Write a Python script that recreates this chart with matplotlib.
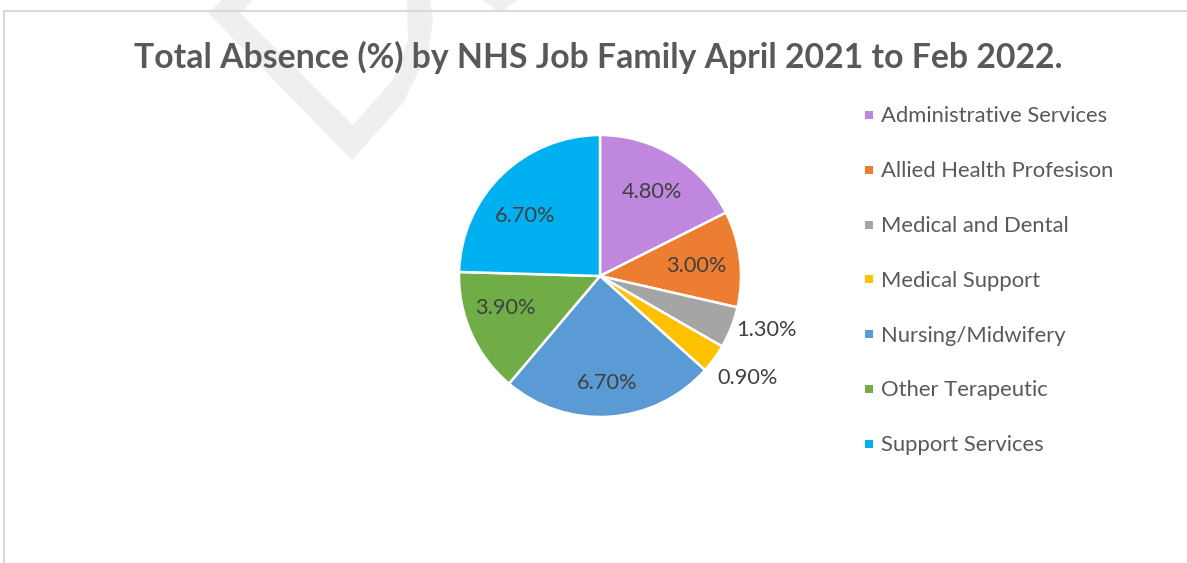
import matplotlib
matplotlib.use("Agg")
import matplotlib.pyplot as plt
from matplotlib.patches import Polygon, Rectangle
import numpy as np

# ---- data ----
categories = ["Administrative Services", "Allied Health Profesison", "Medical and Dental",
              "Medical Support", "Nursing/Midwifery", "Other Terapeutic", "Support Services"]
values = [4.8, 3.0, 1.3, 0.9, 6.7, 3.9, 6.7]
value_labels = ["4.80%", "3.00%", "1.30%", "0.90%", "6.70%", "3.90%", "6.70%"]
title = "Total Absence (%) by NHS Job Family April 2021 to Feb 2022."

colors = ["#BF87DD", "#ED7D31", "#A5A5A5", "#FFC000", "#5B9BD5", "#70AD47", "#00B0F0"]

W, H = 1187, 563
DPI = 100
fig = plt.figure(figsize=(W / DPI, H / DPI), dpi=DPI)
fig.patch.set_facecolor("white")
FONT = "Lato"


def fx(px):
    return px / W


def fy(py):
    return 1 - py / H


# watermark fragments (light grey)
wm1 = [(222, 0), (208, 13), (352, 160), (403, 103), (428, 53), (433, 20), (430, 0),
       (407, 0), (408, 40), (393, 80), (353, 125), (240, 13), (252, 0)]
wm2 = [(483, 0), (500, 13), (517, 0)]
for pts in (wm1, wm2):
    fig.patches.append(Polygon([(fx(x), fy(y)) for x, y in pts], closed=True,
                               transform=fig.transFigure, facecolor="#EFEFEF",
                               edgecolor="none", zorder=0))

# chart border (top and left visible)
fig.add_artist(plt.Line2D([fx(4), 1.0], [fy(11), fy(11)], transform=fig.transFigure,
                          color="#D9D9D9", lw=1.5, zorder=1))
fig.add_artist(plt.Line2D([fx(4), fx(4)], [fy(11), 0.0], transform=fig.transFigure,
                          color="#D9D9D9", lw=1.5, zorder=1))

renderer = fig.canvas.get_renderer()


def fit(txt, target_px):
    w = txt.get_window_extent(renderer=renderer).width
    txt.set_fontsize(txt.get_fontsize() * target_px / w)


# title
t = fig.text(fx(598.5), fy(57), title, ha="center", va="center", fontsize=22,
             fontweight="bold", color="#595959", family=FONT)
fit(t, 927)

# pie axes
cx, cy, R = 600, 276, 141
ax = fig.add_axes([fx(cx - R), fy(cy + R), (2 * R) / W, (2 * R) / H])
wedges, _ = ax.pie(values, colors=colors, startangle=90, counterclock=False,
                   radius=1.0, wedgeprops=dict(edgecolor="white", linewidth=1.8))
ax.set_xlim(-1, 1)
ax.set_ylim(-1, 1)
ax.set_aspect("equal")
ax.axis("off")

# data labels: (radius fraction, pixel nudge, ha, va)
label_fs = 13
label_place = [
    (0.70, (0, 0), "center", "center"),
    (0.69, (0, -2), "center", "center"),
    (1.00, (5, -2), "left", "center"),
    (1.00, (3, -9), "left", "top"),
    (0.76, (0, 0), "center", "center"),
    (0.70, (-5, 8), "center", "center"),
    (0.69, (-7, -10), "center", "center"),
]
for i, (w, lab) in enumerate(zip(wedges, value_labels)):
    mid = np.deg2rad((w.theta1 + w.theta2) / 2)
    r, off, ha, va = label_place[i]
    tt = ax.annotate(lab, xy=(r * np.cos(mid), r * np.sin(mid)), xytext=off,
                     textcoords="offset pixels", ha=ha, va=va,
                     fontsize=label_fs, color="#404040", family=FONT,
                     annotation_clip=False)
    if i == 0:
        fit(tt, 60)
        label_fs = tt.get_fontsize()

# legend (manual)
leg_fs = 14
y0, dy = 115, 54.8
for i, (cat, col) in enumerate(zip(categories, colors)):
    yc = y0 + i * dy
    fig.patches.append(Rectangle((fx(865), fy(yc + 4)), 8 / W, 8 / H,
                                 transform=fig.transFigure, facecolor=col,
                                 edgecolor="none"))
    tx = fig.text(fx(881), fy(yc + 7.5), cat, ha="left", va="baseline",
                  fontsize=leg_fs, color="#595959", family=FONT)
    if i == 0:
        fit(tx, 227)
        leg_fs = tx.get_fontsize()

fig.savefig("out.png", dpi=DPI, facecolor="white")
